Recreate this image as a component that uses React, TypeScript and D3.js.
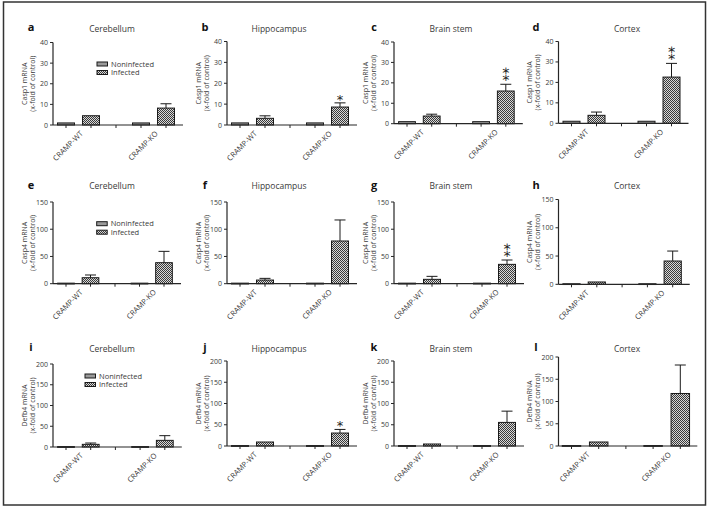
import React from "react";
import * as d3 from "d3";

// ---------- data ----------
const genes = ["Casp1", "Casp4", "Defb4"];
const regions = ["Cerebellum", "Hippocampus", "Brain stem", "Cortex"];
const panelLetters = [["a", "b", "c", "d"], ["e", "f", "g", "h"], ["i", "j", "k", "l"]];
const groups = ["CRAMP-WT", "CRAMP-KO"];
const seriesNames = ["Noninfected", "Infected"];
const yMaxByGene = [40, 150, 200];
const yTicksByGene = [[0, 10, 20, 30, 40], [0, 50, 100, 150], [0, 50, 100, 150, 200]];

// per region: [WT noninfected, WT infected, KO noninfected, KO infected]
const casp1Mean = [[1, 4.5, 1, 8.2], [1, 3.2, 1, 8.6], [1, 3.75, 1, 16], [1, 3.9, 1, 22.6]];
const casp1Err = [[0.2, 0.4, 0.2, 2.1], [0.2, 1.2, 0.2, 2.0], [0.2, 0.9, 0.2, 3.3], [0.2, 1.6, 0.2, 6.7]];
const casp4Mean = [[1, 11, 1, 38.6], [1, 6.7, 1, 78.4], [1, 8, 1, 35.5], [1, 4.1, 1, 41.2]];
const casp4Err = [[0.3, 5, 0.3, 20.8], [0.3, 3.1, 0.3, 38.6], [0.3, 5.5, 0.3, 8], [0.3, 1.2, 0.3, 17.6]];
const defb4Mean = [[1, 6.4, 1, 16], [1, 9.4, 1, 30.5], [1, 4.7, 1, 55.5], [1, 9, 1, 118]];
const defb4Err = [[0.3, 3.2, 0.3, 11.3], [0.3, 2.3, 0.3, 8.5], [0.3, 2.3, 0.3, 26.5], [0.3, 2.2, 0.3, 64]];
// significance marks on KO infected bar
const casp1Stars = ["", "*", "⁑", "⁑"];
const casp4Stars = ["", "", "⁑", ""];
const defb4Stars = ["", "*", "", ""];

const means = [casp1Mean, casp4Mean, defb4Mean];
const errs = [casp1Err, casp4Err, defb4Err];
const stars = [casp1Stars, casp4Stars, defb4Stars];

// ---------- layout ----------
const colX0 = [53, 227, 394, 558.5];
const colTitleX = [112, 279, 451, 627];
const colLetterX = [31, 205, 374, 536];
const panelTop = [[42.5, 41.5, 42, 41.5], [202, 202, 202, 199.5], [364, 361, 361, 357]];
const panelBottom = [[125, 125, 123.7, 123.3], [283.7, 283.7, 283.7, 284.3], [447, 446, 446, 446]];
const panelSpacing = [[25, 25, 24.7, 25], [24.5, 25, 25, 25.3], [24.7, 25, 25, 27.2]];
const rowTitleY = [31.5, 189, 352];
const rowLetterY = [30.5, 188.5, 351];
const legendPos = [[97, 62], [96.7, 221.7], [85, 374]];

const FONT = "'Open Sans', sans-serif";
const TXT = "#3a3a3a";
const AX = "#262626";

function Panel({ r, c }: { r: number; c: number }) {
  const x0 = colX0[c];
  const yB = panelBottom[r][c];
  const yT = panelTop[r][c];
  const sp = panelSpacing[r][c];
  const y = d3.scaleLinear().domain([0, yMaxByGene[r]]).range([yB, yT]);
  const slots = [0, 1, 2, 3, 4];
  const tx = d3.scaleLinear().domain([0, 4]).range([x0 + 13, x0 + 13 + 4 * sp]);
  const barSlots = [0, 1, 3, 4];
  const bw = sp * 0.68;
  const xEnd = tx(4) + 17;
  const m = means[r][c];
  const e = errs[r][c];
  const mark = stars[r][c];
  const midY = (yB + yT) / 2;
  const starX = tx(4);
  const errTop = y(m[3] + e[3]);
  return (
    <g>
      {/* letter and title */}
      <text x={colLetterX[c]} y={rowLetterY[r]} fontFamily={FONT} fontWeight="bold" fontSize={11} fill="#111" textAnchor="middle">
        {panelLetters[r][c]}
      </text>
      <text x={colTitleX[c]} y={rowTitleY[r]} fontFamily={FONT} fontSize={8.5} fill={TXT} textAnchor="middle">
        {regions[c]}
      </text>
      {/* bars */}
      {barSlots.map((s, i) => {
        const v = m[i];
        const top = y(v);
        return (
          <rect
            key={"b" + i}
            x={tx(s) - bw / 2}
            y={top}
            width={bw}
            height={Math.max(yB - top, 0.8)}
            fill={i % 2 === 0 ? "#9a9a9a" : "url(#checker)"}
            stroke="#1a1a1a"
            strokeWidth={1}
          />
        );
      })}
      {/* error bars */}
      {barSlots.map((s, i) => {
        const top = y(m[i]);
        const et = y(m[i] + e[i]);
        if (top - et < 1) return null;
        return (
          <g key={"e" + i} stroke="#1a1a1a" strokeWidth={1}>
            <line x1={tx(s)} x2={tx(s)} y1={top} y2={et} />
            <line x1={tx(s) - 5.5} x2={tx(s) + 5.5} y1={et} y2={et} />
          </g>
        );
      })}
      {/* significance */}
      {mark === "*" && (
        <text x={starX} y={errTop + 1} fontFamily="'DejaVu Sans', sans-serif" fontSize={13} fill="#222" textAnchor="middle">
          *
        </text>
      )}
      {mark === "⁑" && (
        <text x={starX} y={errTop - 3.5} fontFamily="'DejaVu Sans', sans-serif" fontSize={14.5} fill="#222" textAnchor="middle">
          ⁑
        </text>
      )}
      {/* y axis */}
      <line x1={x0} x2={x0} y1={yT} y2={yB} stroke={AX} strokeWidth={1.2} />
      {yTicksByGene[r].map((t) => (
        <g key={"yt" + t}>
          <line x1={x0 - 3} x2={x0} y1={y(t)} y2={y(t)} stroke={AX} strokeWidth={1} />
          <text x={x0 - 5} y={y(t) + 2.5} fontFamily={FONT} fontSize={7} fill={TXT} textAnchor="end">
            {t}
          </text>
        </g>
      ))}
      {/* y title */}
      <g transform={`translate(${x0 - 29},${midY}) rotate(-90)`}>
        <text x={0} y={2.5} fontFamily={FONT} fontSize={7} fill={TXT} textAnchor="middle">
          {genes[r]} mRNA
        </text>
        <text x={0} y={10.5} fontFamily={FONT} fontSize={7} fill={TXT} textAnchor="middle">
          (x-fold of control)
        </text>
      </g>
      {/* x axis */}
      <line x1={x0} x2={xEnd} y1={yB} y2={yB} stroke={AX} strokeWidth={1.2} />
      {slots.map((s) => (
        <line key={"xt" + s} x1={tx(s)} x2={tx(s)} y1={yB} y2={yB + 3} stroke={AX} strokeWidth={1} />
      ))}
      {groups.map((g, gi) => {
        const cx = (tx(gi * 3) + tx(gi * 3 + 1)) / 2 + 5;
        const cy = yB + 9;
        return (
          <text key={g} transform={`translate(${cx},${cy}) rotate(-45)`} fontFamily={FONT} fontSize={7.5} fill={TXT} textAnchor="end">
            {g}
          </text>
        );
      })}
      {/* legend */}
      {c === 0 && (
        <g>
          {seriesNames.map((n, i) => (
            <g key={n}>
              <rect
                x={legendPos[r][0]}
                y={legendPos[r][1] + i * 8.5}
                width={10.5}
                height={4}
                fill={i === 0 ? "#9a9a9a" : "url(#checker)"}
                stroke="#1a1a1a"
                strokeWidth={1}
              />
              <text x={legendPos[r][0] + 14} y={legendPos[r][1] + i * 8.5 + 4.5} fontFamily={FONT} fontSize={7.5} fill={TXT}>
                {n}
              </text>
            </g>
          ))}
        </g>
      )}
    </g>
  );
}

export default function App() {
  return (
    <svg width={708} height={508} style={{ position: "absolute", left: 0, top: 0, background: "#fff" }}>
      <defs>
        <pattern id="checker" width={2} height={2} patternUnits="userSpaceOnUse">
          <rect width={2} height={2} fill="#d8d8d8" />
          <rect x={0} y={0} width={1} height={1} fill="#3a3a3a" />
          <rect x={1} y={1} width={1} height={1} fill="#3a3a3a" />
        </pattern>
      </defs>
      <rect x={0} y={0} width={708} height={508} fill="#fff" />
      <rect x={3.5} y={2} width={702} height={503} fill="none" stroke="#333" strokeWidth={1.5} />
      {[0, 1, 2].map((r) => [0, 1, 2, 3].map((c) => <Panel key={r + "-" + c} r={r} c={c} />))}
    </svg>
  );
}
